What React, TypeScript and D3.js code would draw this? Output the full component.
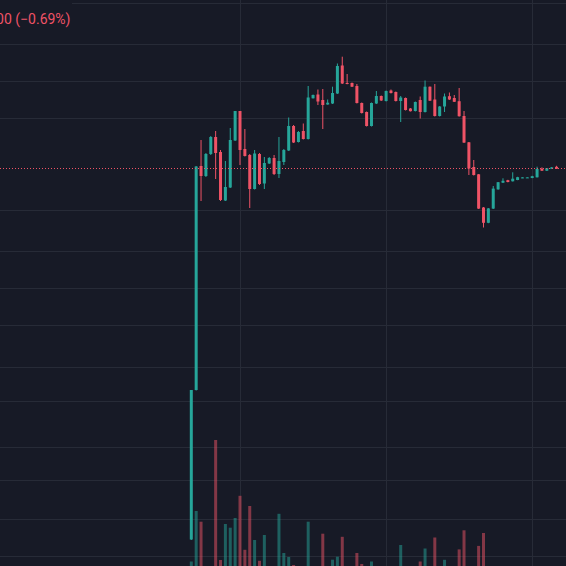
import React from "react";
import * as d3 from "d3";

const W = 566;
const H = 566;

// OHLC (price units)
const open = [6.05, 21.0, 43.4, 42.4, 44.6, 46.3, 44.8, 39.95, 41.25, 45.95, 48.9, 45.1, 44.5, 41.1, 44.6, 41.65, 43.65, 44.2, 42.6, 43.8, 44.95, 47.4, 45.8, 46.9, 46.1, 50.17, 50.55, 50.0, 49.55, 49.65, 50.65, 53.45, 51.7, 51.7, 51.4, 49.7, 48.8, 47.4, 49.65, 50.4, 49.9, 50.95, 50.8, 49.9, 50.2, 49.15, 48.9, 50.0, 48.8, 51.33, 50.05, 48.4, 49.35, 50.38, 50.2, 49.88, 48.4, 45.77, 43.3, 42.57, 39.25, 37.72, 39.14, 41.06, 41.73, 41.98, 41.87, 42.0, 42.2, 42.22, 42.2, 42.27, 43.13, 42.93, 43.12, 43.32];
const high = [21.0, 43.4, 46.0, 44.7, 46.4, 46.9, 45.0, 43.9, 47.2, 48.9, 48.9, 47.1, 44.6, 45.0, 44.7, 44.3, 44.3, 44.5, 46.3, 45.1, 48.25, 47.5, 46.9, 47.65, 51.4, 50.55, 51.05, 51.1, 50.05, 51.33, 53.65, 54.33, 52.6, 51.75, 51.6, 49.75, 48.85, 49.75, 50.9, 50.45, 50.95, 51.05, 50.85, 50.4, 50.25, 49.2, 49.85, 50.35, 51.95, 51.35, 51.6, 49.4, 50.65, 50.75, 50.5, 51.2, 48.9, 45.8, 44.0, 42.6, 39.3, 39.2, 41.4, 41.8, 42.17, 42.02, 42.77, 42.32, 42.27, 42.27, 42.42, 43.33, 43.27, 43.2, 43.3, 43.42];
const low = [6.0, 20.95, 39.9, 42.3, 44.5, 42.1, 39.9, 39.9, 41.2, 45.9, 43.5, 44.35, 39.2, 41.05, 41.5, 41.1, 43.6, 42.5, 42.2, 43.5, 44.9, 45.7, 45.75, 46.05, 46.05, 50.15, 49.5, 47.1, 49.53, 49.6, 50.6, 51.6, 51.57, 51.3, 49.65, 48.65, 47.35, 47.35, 49.6, 49.9, 49.85, 50.65, 49.85, 47.8, 48.95, 48.85, 48.85, 48.15, 48.75, 49.9, 48.35, 48.35, 48.8, 50.0, 49.8, 48.33, 45.7, 42.5, 42.45, 39.1, 37.25, 37.68, 39.1, 41.03, 41.7, 41.77, 41.85, 41.98, 42.18, 42.2, 42.18, 42.25, 42.9, 42.9, 43.1, 43.1];
const close = [21.0, 43.35, 42.4, 44.6, 46.3, 44.7, 40.0, 41.3, 46.0, 48.9, 45.0, 44.4, 41.1, 44.65, 41.6, 43.7, 44.2, 42.6, 43.9, 45.0, 47.4, 45.75, 46.8, 46.1, 50.25, 50.5, 49.85, 49.5, 49.73, 50.7, 53.4, 51.65, 51.6, 51.33, 49.7, 48.7, 47.4, 49.7, 50.4, 49.95, 50.9, 50.7, 49.9, 50.25, 49.0, 48.88, 49.8, 48.8, 51.33, 49.93, 48.4, 49.35, 50.35, 50.05, 49.82, 48.38, 45.74, 43.15, 42.5, 39.14, 37.72, 39.16, 41.14, 41.78, 41.92, 41.8, 42.13, 42.28, 42.26, 42.26, 42.38, 43.11, 42.93, 43.18, 43.26, 43.13];
const volume = [38.5, 89, 78.3, 25, 22, 160, 40, 76, 72.3, 82, 104.2, 50.2, 94, 60, 39.2, 65, 20, 24, 86.2, 47, 43, 35, 22, 26, 78.3, 18, 28, 66.3, 15, 40.3, 43.3, 63.2, 24, 20, 47, 36, 30, 38.5, 28, 18, 25, 16, 27, 55, 30, 20, 26, 38.5, 51.5, 28, 62.5, 24, 40.2, 20, 22, 50.6, 69.7, 32, 28, 54.1, 67, 30, 26, 18, 12, 10, 14, 9, 6, 5, 7, 15, 8, 6, 5, 7];

// price-axis grid levels and time-axis grid (bar indices)
const priceGridLevels = [59.7, 55.57, 51.87, 48.17, 38.97, 34.87, 31.17, 27.47, 23.27, 19.87, 15.27, 11.93, 8.07, 4.37];
const timeGridBars = [10, 40, 70];

const legendText = "00 (\u22120.69%)";

const BG = "#171a26";
const GRID = "#272b37";
const UP = "#26a69a";
const DOWN = "#ef5366";

export default function App() {
  const n = close.length;
  const x = d3.scaleLinear().domain([0, n - 1]).range([191.3, 556.55]);
  const y = d3.scaleLinear().domain([0, 60]).range([600, 0]);
  const yv = d3.scaleLinear().domain([0, 200]).range([600, 400]);
  const bw = 3;
  const lastY = Math.floor(y(close[n - 1])) + 0.5;

  return (
    <svg
      width={W}
      height={H}
      style={{ position: "fixed", left: 0, top: 0, display: "block" }}
    >
      <rect x={0} y={0} width={W} height={H} fill={BG} />
      {priceGridLevels.map((p, i) => {
        const yy = Math.floor(y(p)) + 0.5;
        return <line key={"h" + i} x1={0} x2={W} y1={yy} y2={yy} stroke={GRID} strokeWidth={1} />;
      })}
      {timeGridBars.map((b, i) => {
        const xx = Math.floor(x(b)) + 0.5;
        return <line key={"v" + i} x1={xx} x2={xx} y1={0} y2={H} stroke={GRID} strokeWidth={1} />;
      })}
      {/* volume */}
      {volume.map((v, i) => {
        const up = close[i] >= open[i];
        const top = yv(v);
        return (
          <rect
            key={"vol" + i}
            x={x(i) - bw / 2}
            y={top}
            width={bw}
            height={Math.max(0, yv(0) - top)}
            fill={up ? UP : DOWN}
            fillOpacity={0.5}
          />
        );
      })}
      {/* candles */}
      {close.map((c, i) => {
        const o = open[i];
        const up = c >= o;
        const col = up ? UP : DOWN;
        const top = y(Math.max(o, c));
        const bot = y(Math.min(o, c));
        const cx = x(i);
        return (
          <g key={"c" + i}>
            <line x1={cx} x2={cx} y1={y(high[i])} y2={y(low[i])} stroke={col} strokeWidth={1} />
            <rect x={cx - bw / 2} y={top} width={bw} height={Math.max(1, bot - top)} fill={col} />
          </g>
        );
      })}
      {/* last price line */}
      <line x1={0} x2={W} y1={lastY} y2={lastY} stroke={DOWN} strokeWidth={1} strokeDasharray="1 2" />
      {/* legend */}
      <rect x={0} y={0} width={72} height={30} fill={BG} />
      <text
        x={70.5}
        y={24}
        textAnchor="end"
        fill={DOWN}
        style={{ fontFamily: "Roboto, 'Noto Sans', sans-serif", fontSize: 14 }}
      >
        {legendText}
      </text>
    </svg>
  );
}
